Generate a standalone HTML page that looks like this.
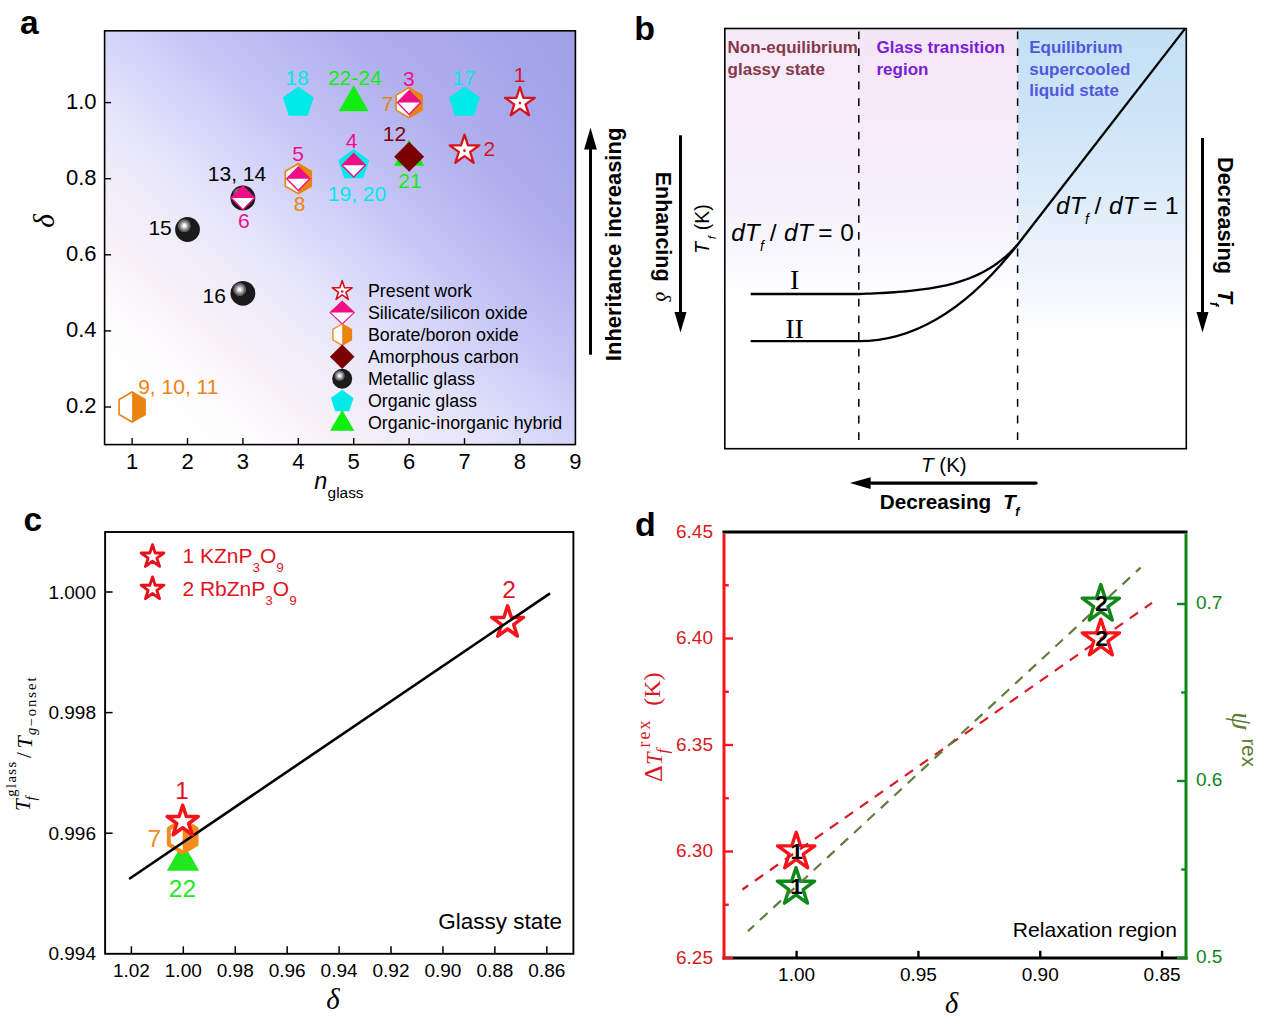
<!DOCTYPE html>
<html lang="en"><head><meta charset="utf-8"><title>Figure</title>
<style>html,body{margin:0;padding:0;background:#fff;overflow:hidden}svg{display:block;font-family:'Liberation Sans', sans-serif}</style></head><body>
<svg width="1269" height="1024" viewBox="0 0 1269 1024">
<defs>
<linearGradient id="bgA" x1="0" y1="1" x2="1" y2="0"><stop offset="0" stop-color="#ffffff"/><stop offset="0.15" stop-color="#fefdfe"/><stop offset="0.25" stop-color="#f8f2f8"/><stop offset="0.33" stop-color="#f0ecf9"/><stop offset="0.42" stop-color="#e3e3fb"/><stop offset="0.5" stop-color="#d4d4fa"/><stop offset="0.6" stop-color="#c3c3f5"/><stop offset="0.75" stop-color="#b0b0ef"/><stop offset="0.9" stop-color="#a5a5ea"/><stop offset="1" stop-color="#a1a1e8"/></linearGradient>
<radialGradient id="bgA2" gradientUnits="userSpaceOnUse" cx="600" cy="190" r="200"><stop offset="0" stop-color="#8083dc" stop-opacity="0.10"/><stop offset="1" stop-color="#8486d4" stop-opacity="0"/></radialGradient>
<linearGradient id="bgB1" x1="0" y1="0" x2="0" y2="1"><stop offset="0" stop-color="#f6eaf8"/><stop offset="0.23" stop-color="#f7eef9"/><stop offset="0.41" stop-color="#f5f1fb"/><stop offset="0.53" stop-color="#f8f7fd"/><stop offset="0.65" stop-color="#ffffff"/><stop offset="1" stop-color="#ffffff"/></linearGradient>
<linearGradient id="bgB2" x1="0" y1="0" x2="0" y2="1"><stop offset="0" stop-color="#f4e5f6"/><stop offset="0.23" stop-color="#f6ebf8"/><stop offset="0.41" stop-color="#f5f0fb"/><stop offset="0.53" stop-color="#f8f7fd"/><stop offset="0.65" stop-color="#ffffff"/><stop offset="1" stop-color="#ffffff"/></linearGradient>
<linearGradient id="bgB3" x1="0" y1="0" x2="0" y2="1"><stop offset="0" stop-color="#c3e0f6"/><stop offset="0.23" stop-color="#cfe5f7"/><stop offset="0.41" stop-color="#deecfa"/><stop offset="0.53" stop-color="#ebf2fc"/><stop offset="0.65" stop-color="#f6f8fe"/><stop offset="0.73" stop-color="#ffffff"/><stop offset="1" stop-color="#ffffff"/></linearGradient>
</defs>
<rect width="1269" height="1024" fill="#fff"/>
<g id="panelA">
<rect x="104.6" y="30.8" width="470.8" height="413.8" fill="url(#bgA)"/>
<rect x="104.6" y="30.8" width="470.8" height="413.8" fill="url(#bgA2)"/>
<polygon points="298.3,86.4 313.71,97.59 307.82,115.71 288.78,115.71 282.89,97.59" fill="#00eaea"/>
<polygon points="353.7,85.3 368.68,111.25 338.72,111.25" fill="#10ee10"/>
<polygon points="464.5,86.4 479.91,97.59 474.02,115.71 454.98,115.71 449.09,97.59" fill="#00eaea"/>
<polygon points="409.1,87.6 422.09,95.1 422.09,110.1 409.1,117.6 396.11,110.1 396.11,95.1" fill="#fff" stroke="#ea8410" stroke-width="1.6"/>
<polygon points="409.1,87.6 422.09,95.1 422.09,110.1 409.1,117.6" fill="#ea8410"/>
<polygon points="409.1,90.8 420.7,102.6 409.1,114.4 397.5,102.6" fill="#fff" stroke="#ee0f86" stroke-width="1.4"/>
<polygon points="409.1,90.8 420.7,102.6 397.5,102.6" fill="#ee0f86"/>
<polygon points="519.9,87 523.4,97.78 534.74,97.78 525.57,104.44 529.07,115.22 519.9,108.56 510.73,115.22 514.23,104.44 505.06,97.78 516.4,97.78" fill="#fff" stroke="#d8121c" stroke-width="2.3" stroke-linejoin="round"/>
<circle cx="519.9" cy="103.1" r="1.3" fill="#d8121c"/>
<polygon points="464.5,134.56 468,145.34 479.34,145.34 470.17,152 473.67,162.78 464.5,156.12 455.33,162.78 458.83,152 449.66,145.34 461,145.34" fill="#fff" stroke="#d8121c" stroke-width="2.3" stroke-linejoin="round"/>
<circle cx="464.5" cy="150.66" r="1.3" fill="#d8121c"/>
<polygon points="409.1,139.71 424.08,165.66 394.12,165.66" fill="#10ee10"/>
<polygon points="409.1,141.8 424.1,156.8 409.1,171.8 394.1,156.8" fill="#7b0000"/>
<polygon points="353.7,149 369.11,160.19 363.22,178.31 344.18,178.31 338.29,160.19" fill="#00eaea"/>
<polygon points="353.7,153.4 365.3,165.2 353.7,177 342.1,165.2" fill="#fff" stroke="#ee0f86" stroke-width="1.4"/>
<polygon points="353.7,153.4 365.3,165.2 342.1,165.2" fill="#ee0f86"/>
<polygon points="298.3,163.7 311.29,171.2 311.29,186.2 298.3,193.7 285.31,186.2 285.31,171.2" fill="#fff" stroke="#ea8410" stroke-width="1.6"/>
<polygon points="298.3,163.7 311.29,171.2 311.29,186.2 298.3,193.7" fill="#ea8410"/>
<polygon points="298.3,166.9 309.9,178.7 298.3,190.5 286.7,178.7" fill="#fff" stroke="#ee0f86" stroke-width="1.4"/>
<polygon points="298.3,166.9 309.9,178.7 286.7,178.7" fill="#ee0f86"/>
<circle cx="242.9" cy="197.9" r="12.4" fill="#1b1b1b"/>
<circle cx="239.7" cy="194.1" r="6.4" fill="#666"/>
<circle cx="239.7" cy="194.1" r="4.5" fill="#989898"/>
<circle cx="239.7" cy="194.1" r="3" fill="#d2d2d2"/>
<circle cx="239.7" cy="194.1" r="1.6" fill="#fff"/>
<polygon points="242.9,186.1 254.5,197.9 242.9,209.7 231.3,197.9" fill="#fff" stroke="#ee0f86" stroke-width="1.4"/>
<polygon points="242.9,186.1 254.5,197.9 231.3,197.9" fill="#ee0f86"/>
<circle cx="187.5" cy="229.5" r="12.4" fill="#1b1b1b"/>
<circle cx="184.3" cy="225.7" r="6.4" fill="#666"/>
<circle cx="184.3" cy="225.7" r="4.5" fill="#989898"/>
<circle cx="184.3" cy="225.7" r="3" fill="#d2d2d2"/>
<circle cx="184.3" cy="225.7" r="1.6" fill="#fff"/>
<circle cx="242.9" cy="293.3" r="12.4" fill="#1b1b1b"/>
<circle cx="239.7" cy="289.5" r="6.4" fill="#666"/>
<circle cx="239.7" cy="289.5" r="4.5" fill="#989898"/>
<circle cx="239.7" cy="289.5" r="3" fill="#d2d2d2"/>
<circle cx="239.7" cy="289.5" r="1.6" fill="#fff"/>
<polygon points="132.1,392 145.09,399.5 145.09,414.5 132.1,422 119.11,414.5 119.11,399.5" fill="#fff" stroke="#ea8410" stroke-width="1.6"/>
<polygon points="132.1,392 145.09,399.5 145.09,414.5 132.1,422" fill="#ea8410"/>
<text x="297" y="84.5" font-size="21" fill="#00eaea" text-anchor="middle">18</text>
<text x="354.8" y="84.5" font-size="21" fill="#10ee10" text-anchor="middle">22-24</text>
<text x="408.8" y="85.7" font-size="21" fill="#ee0f86" text-anchor="middle">3</text>
<text x="387.6" y="111" font-size="21" fill="#ea8410" text-anchor="middle">7</text>
<text x="463.7" y="84.5" font-size="21" fill="#00eaea" text-anchor="middle">17</text>
<text x="519.7" y="82" font-size="21" fill="#d8121c" text-anchor="middle">1</text>
<text x="489.4" y="155.8" font-size="21" fill="#d8121c" text-anchor="middle">2</text>
<text x="394.4" y="140.7" font-size="21" fill="#7b0000" text-anchor="middle">12</text>
<text x="351.5" y="147.5" font-size="21" fill="#ee0f86" text-anchor="middle">4</text>
<text x="410" y="187.9" font-size="21" fill="#10ee10" text-anchor="middle">21</text>
<text x="357" y="200.5" font-size="21" fill="#00eaea" text-anchor="middle">19, 20</text>
<text x="298" y="160.6" font-size="21" fill="#ee0f86" text-anchor="middle">5</text>
<text x="299.5" y="211.3" font-size="21" fill="#ea8410" text-anchor="middle">8</text>
<text x="237" y="181" font-size="21" fill="#000" text-anchor="middle">13, 14</text>
<text x="243.8" y="228.2" font-size="21" fill="#ee0f86" text-anchor="middle">6</text>
<text x="160.1" y="235" font-size="21" fill="#000" text-anchor="middle">15</text>
<text x="214.3" y="302.6" font-size="21" fill="#000" text-anchor="middle">16</text>
<text x="138.2" y="393.9" font-size="21" fill="#ea8410">9, 10, 11</text>
<polygon points="342.2,280.6 344.54,287.79 352.09,287.79 345.98,292.23 348.31,299.41 342.2,294.97 336.09,299.41 338.42,292.23 332.31,287.79 339.86,287.79" fill="#fff" stroke="#d8121c" stroke-width="1.6" stroke-linejoin="round"/>
<circle cx="342.2" cy="291.5" r="1.3" fill="#d8121c"/>
<polygon points="342.2,301.27 354.2,312.57 342.2,323.87 330.2,312.57" fill="#fff" stroke="#ee0f86" stroke-width="1.2"/>
<polygon points="342.2,301.27 354.2,312.57 330.2,312.57" fill="#ee0f86"/>
<polygon points="342.2,323.94 351.47,329.29 351.47,339.99 342.2,345.34 332.93,339.99 332.93,329.29" fill="#fff" stroke="#ea8410" stroke-width="1.3"/>
<polygon points="342.2,323.94 351.47,329.29 351.47,339.99 342.2,345.34" fill="#ea8410"/>
<polygon points="342.2,344.41 354.5,356.71 342.2,369.01 329.9,356.71" fill="#7b0000"/>
<circle cx="342.2" cy="378.78" r="10" fill="#1b1b1b"/>
<circle cx="339.62" cy="375.72" r="5.16" fill="#666"/>
<circle cx="339.62" cy="375.72" r="3.63" fill="#989898"/>
<circle cx="339.62" cy="375.72" r="2.42" fill="#d2d2d2"/>
<circle cx="339.62" cy="375.72" r="1.29" fill="#fff"/>
<polygon points="342.2,389.75 353.52,397.97 349.19,411.28 335.21,411.28 330.88,397.97" fill="#00eaea"/>
<polygon points="342.2,409.72 354.32,430.72 330.08,430.72" fill="#10ee10"/>
<text x="367.9" y="296.5" font-size="17.85" fill="#000">Present work</text>
<text x="367.9" y="318.57" font-size="17.85" fill="#000">Silicate/silicon oxide</text>
<text x="367.9" y="340.64" font-size="17.85" fill="#000">Borate/boron oxide</text>
<text x="367.9" y="362.71" font-size="17.85" fill="#000">Amorphous carbon</text>
<text x="367.9" y="384.78" font-size="17.85" fill="#000">Metallic glass</text>
<text x="367.9" y="406.85" font-size="17.85" fill="#000">Organic glass</text>
<text x="367.9" y="428.92" font-size="17.85" fill="#000">Organic-inorganic hybrid</text>
<rect x="104.6" y="30.8" width="470.8" height="413.8" fill="none" stroke="#000" stroke-width="1.6"/>
<line x1="132.1" y1="444.6" x2="132.1" y2="438.1" stroke="#000" stroke-width="1.4"/>
<line x1="187.5" y1="444.6" x2="187.5" y2="438.1" stroke="#000" stroke-width="1.4"/>
<line x1="242.9" y1="444.6" x2="242.9" y2="438.1" stroke="#000" stroke-width="1.4"/>
<line x1="298.3" y1="444.6" x2="298.3" y2="438.1" stroke="#000" stroke-width="1.4"/>
<line x1="353.7" y1="444.6" x2="353.7" y2="438.1" stroke="#000" stroke-width="1.4"/>
<line x1="409.1" y1="444.6" x2="409.1" y2="438.1" stroke="#000" stroke-width="1.4"/>
<line x1="464.5" y1="444.6" x2="464.5" y2="438.1" stroke="#000" stroke-width="1.4"/>
<line x1="519.9" y1="444.6" x2="519.9" y2="438.1" stroke="#000" stroke-width="1.4"/>
<text x="132.1" y="469" font-size="22" fill="#000" text-anchor="middle">1</text>
<text x="187.5" y="469" font-size="22" fill="#000" text-anchor="middle">2</text>
<text x="242.9" y="469" font-size="22" fill="#000" text-anchor="middle">3</text>
<text x="298.3" y="469" font-size="22" fill="#000" text-anchor="middle">4</text>
<text x="353.7" y="469" font-size="22" fill="#000" text-anchor="middle">5</text>
<text x="409.1" y="469" font-size="22" fill="#000" text-anchor="middle">6</text>
<text x="464.5" y="469" font-size="22" fill="#000" text-anchor="middle">7</text>
<text x="519.9" y="469" font-size="22" fill="#000" text-anchor="middle">8</text>
<text x="575.3" y="469" font-size="22" fill="#000" text-anchor="middle">9</text>
<line x1="104.6" y1="407" x2="111.1" y2="407" stroke="#000" stroke-width="1.4"/>
<text x="96.5" y="413.4" font-size="22" fill="#000" text-anchor="end">0.2</text>
<line x1="104.6" y1="330.9" x2="111.1" y2="330.9" stroke="#000" stroke-width="1.4"/>
<text x="96.5" y="337.3" font-size="22" fill="#000" text-anchor="end">0.4</text>
<line x1="104.6" y1="254.8" x2="111.1" y2="254.8" stroke="#000" stroke-width="1.4"/>
<text x="96.5" y="261.2" font-size="22" fill="#000" text-anchor="end">0.6</text>
<line x1="104.6" y1="178.7" x2="111.1" y2="178.7" stroke="#000" stroke-width="1.4"/>
<text x="96.5" y="185.1" font-size="22" fill="#000" text-anchor="end">0.8</text>
<line x1="104.6" y1="102.6" x2="111.1" y2="102.6" stroke="#000" stroke-width="1.4"/>
<text x="96.5" y="109" font-size="22" fill="#000" text-anchor="end">1.0</text>
<text transform="translate(53.5,221) rotate(-90)" font-size="29.5" font-style="italic" font-family="'Liberation Serif', serif" text-anchor="middle">δ</text>
<text font-size="23.5" font-style="italic"><tspan x="314.3" y="488.7">n</tspan><tspan x="327.6" y="497.7" font-size="15.4" font-style="normal">glass</tspan></text>
<line x1="590.5" y1="354.7" x2="590.5" y2="147" stroke="#000" stroke-width="3"/>
<polygon points="590.5,127.8 596.9,149.6 584.1,149.6" fill="#000"/>
<text transform="translate(620.6,244.4) rotate(-90)" font-size="22" font-weight="bold" text-anchor="middle">Inheritance increasing</text>
<text x="20" y="34" font-size="33.5" fill="#000" font-weight="bold">a</text>
</g>
<g id="panelB">
<rect x="724.8" y="28.5" width="134" height="420.2" fill="url(#bgB1)"/>
<rect x="858.8" y="28.5" width="158.8" height="420.2" fill="url(#bgB2)"/>
<rect x="1017.6" y="28.5" width="168.7" height="420.2" fill="url(#bgB3)"/>
<rect x="724.8" y="28.5" width="461.5" height="420.2" fill="none" stroke="#000" stroke-width="1.6"/>
<line x1="858.8" y1="28.5" x2="858.8" y2="442.5" stroke="#000" stroke-width="1.5" stroke-dasharray="7.8,8.9" stroke-dashoffset="-3"/>
<line x1="1017.6" y1="28.5" x2="1017.6" y2="442.5" stroke="#000" stroke-width="1.5" stroke-dasharray="7.8,8.9" stroke-dashoffset="-3"/>
<path d="M750.7,294 L858.8,294 L862.77,293.87 L866.73,293.72 L870.7,293.56 L874.67,293.39 L878.64,293.2 L882.61,292.99 L886.57,292.76 L890.54,292.51 L894.51,292.24 L898.47,291.94 L902.44,291.62 L906.41,291.26 L910.38,290.87 L914.35,290.45 L918.31,289.98 L922.28,289.47 L926.25,288.92 L930.21,288.31 L934.18,287.65 L938.15,286.92 L942.12,286.12 L946.09,285.26 L950.05,284.31 L954.02,283.27 L957.99,282.13 L961.95,280.89 L965.92,279.53 L969.89,278.05 L973.86,276.43 L977.83,274.65 L981.79,272.71 L985.76,270.59 L989.73,268.27 L993.69,265.74 L997.66,262.96 L1001.63,259.93 L1005.6,256.62 L1009.57,252.99 L1013.53,249.03 L1017.5,244.7 L1184.9,28.9" fill="none" stroke="#000" stroke-width="2.3" stroke-linejoin="round"/>
<path d="M750.7,341.2 L858.8,341.2 Q942.15,341.2 1017.5,244.7" fill="none" stroke="#000" stroke-width="2.3"/>
<text x="794.6" y="288.8" font-size="28" fill="#000" text-anchor="middle" font-family="'Liberation Serif', serif">I</text>
<text x="794.6" y="338" font-size="28" fill="#000" text-anchor="middle" font-family="'Liberation Serif', serif">II</text>
<text x="727.6" y="52.9" font-size="17" fill="#87384a" font-weight="bold">Non-equilibrium</text>
<text x="727.6" y="74.6" font-size="17" fill="#87384a" font-weight="bold">glassy state</text>
<text x="876.5" y="52.9" font-size="17" fill="#7a1ed6" font-weight="bold">Glass transition</text>
<text x="876.5" y="74.6" font-size="17" fill="#7a1ed6" font-weight="bold">region</text>
<text x="1029.2" y="52.9" font-size="17" fill="#5257dc" font-weight="bold">Equilibrium</text>
<text x="1029.2" y="74.6" font-size="17" fill="#5257dc" font-weight="bold">supercooled</text>
<text x="1029.2" y="96.2" font-size="17" fill="#5257dc" font-weight="bold">liquid state</text>
<text y="241.3" font-size="24.5" font-style="italic"><tspan x="731.2">dT</tspan><tspan x="760" dy="9.7" font-size="14">f</tspan><tspan x="769.7" dy="-9.7" font-style="normal">/</tspan><tspan x="784.1">dT</tspan><tspan x="818.2" font-style="normal">=</tspan><tspan x="840.3" font-style="normal">0</tspan></text>
<text y="214.3" font-size="24.5" font-style="italic"><tspan x="1056.1">dT</tspan><tspan x="1084.9" dy="9.7" font-size="14">f</tspan><tspan x="1094.6" dy="-9.7" font-style="normal">/</tspan><tspan x="1109">dT</tspan><tspan x="1143.1" font-style="normal">=</tspan><tspan x="1165" font-style="normal">1</tspan></text>
<line x1="680.5" y1="135.3" x2="680.5" y2="314" stroke="#000" stroke-width="3"/>
<polygon points="680.5,332.6 686.5,312 674.5,312" fill="#000"/>
<text transform="translate(655.6,171.7) rotate(90)" font-size="21.5" font-weight="bold">Enhancing<tspan x="120" font-size="21" font-style="italic" font-weight="normal" font-family="'Liberation Serif', serif">δ</tspan></text>
<text transform="translate(709,253.7) rotate(-90)" font-size="19.5" font-style="italic">T<tspan font-size="11.5" dy="7" dx="2.5">f</tspan><tspan dy="-7" font-style="normal" x="23.5">(K)</tspan></text>
<line x1="1202.5" y1="138" x2="1202.5" y2="314" stroke="#000" stroke-width="3"/>
<polygon points="1202.5,332.4 1208.5,312 1196.5,312" fill="#000"/>
<text transform="translate(1218.4,157.1) rotate(90)" font-size="21.7" font-weight="bold">Decreasing<tspan x="132.6" font-style="italic">T</tspan><tspan font-style="italic" font-size="12.5" dy="8" dx="-1">f</tspan></text>
<text x="921.1" y="471.8" font-size="20.5"><tspan font-style="italic">T</tspan> (K)</text>
<line x1="1036.1" y1="483.1" x2="868" y2="483.1" stroke="#000" stroke-width="3.2" stroke-linecap="round"/>
<polygon points="849.9,483.1 870.6,477.3 870.6,488.9" fill="#000"/>
<text x="879.7" y="508.7" font-size="20.7" font-weight="bold">Decreasing<tspan x="1003" font-style="italic">T</tspan><tspan font-style="italic" font-size="12.5" dy="7" dx="-0.5">f</tspan></text>
<text x="634.3" y="39.6" font-size="34" fill="#000" font-weight="bold">b</text>
</g>
<g id="panelC">
<rect x="105.1" y="532" width="468.3" height="421.8" fill="none" stroke="#000" stroke-width="1.9"/>
<line x1="131.37" y1="953.8" x2="131.37" y2="946.3" stroke="#000" stroke-width="1.5"/>
<text x="131.37" y="976.6" font-size="19" fill="#000" text-anchor="middle">1.02</text>
<line x1="183.3" y1="953.8" x2="183.3" y2="946.3" stroke="#000" stroke-width="1.5"/>
<text x="183.3" y="976.6" font-size="19" fill="#000" text-anchor="middle">1.00</text>
<line x1="235.23" y1="953.8" x2="235.23" y2="946.3" stroke="#000" stroke-width="1.5"/>
<text x="235.23" y="976.6" font-size="19" fill="#000" text-anchor="middle">0.98</text>
<line x1="287.16" y1="953.8" x2="287.16" y2="946.3" stroke="#000" stroke-width="1.5"/>
<text x="287.16" y="976.6" font-size="19" fill="#000" text-anchor="middle">0.96</text>
<line x1="339.09" y1="953.8" x2="339.09" y2="946.3" stroke="#000" stroke-width="1.5"/>
<text x="339.09" y="976.6" font-size="19" fill="#000" text-anchor="middle">0.94</text>
<line x1="391.02" y1="953.8" x2="391.02" y2="946.3" stroke="#000" stroke-width="1.5"/>
<text x="391.02" y="976.6" font-size="19" fill="#000" text-anchor="middle">0.92</text>
<line x1="442.95" y1="953.8" x2="442.95" y2="946.3" stroke="#000" stroke-width="1.5"/>
<text x="442.95" y="976.6" font-size="19" fill="#000" text-anchor="middle">0.90</text>
<line x1="494.88" y1="953.8" x2="494.88" y2="946.3" stroke="#000" stroke-width="1.5"/>
<text x="494.88" y="976.6" font-size="19" fill="#000" text-anchor="middle">0.88</text>
<line x1="546.81" y1="953.8" x2="546.81" y2="946.3" stroke="#000" stroke-width="1.5"/>
<text x="546.81" y="976.6" font-size="19" fill="#000" text-anchor="middle">0.86</text>
<text x="96" y="960.4" font-size="19" fill="#000" text-anchor="end">0.994</text>
<line x1="105.1" y1="833.2" x2="112.6" y2="833.2" stroke="#000" stroke-width="1.5"/>
<text x="96" y="839.8" font-size="19" fill="#000" text-anchor="end">0.996</text>
<line x1="105.1" y1="712.6" x2="112.6" y2="712.6" stroke="#000" stroke-width="1.5"/>
<text x="96" y="719.2" font-size="19" fill="#000" text-anchor="end">0.998</text>
<line x1="105.1" y1="592" x2="112.6" y2="592" stroke="#000" stroke-width="1.5"/>
<text x="96" y="598.6" font-size="19" fill="#000" text-anchor="end">1.000</text>
<polygon points="183,842.8 199.19,870.85 166.81,870.85" fill="#1fe81f"/>
<polygon points="182.7,820.5 196.56,828.5 196.56,844.5 182.7,852.5 168.84,844.5 168.84,828.5" fill="#fff" stroke="#f28c1e" stroke-width="4" stroke-linejoin="round"/>
<polygon points="182.7,820.5 196.56,828.5 196.56,844.5 182.7,852.5" fill="#f28c1e"/>
<polygon points="507.6,605.9 511.35,617.44 523.48,617.44 513.67,624.57 517.42,636.11 507.6,628.98 497.78,636.11 501.53,624.57 491.72,617.44 503.85,617.44" fill="none" stroke="#f4141c" stroke-width="3.5" stroke-linejoin="round"/>
<line x1="129.1" y1="879" x2="550" y2="593.3" stroke="#000" stroke-width="2.6"/>
<polygon points="182.7,805.2 186.36,816.46 198.2,816.46 188.62,823.42 192.28,834.69 182.7,827.73 173.12,834.69 176.78,823.42 167.2,816.46 179.04,816.46" fill="#fff" stroke="#f4141c" stroke-width="3.6" stroke-linejoin="round"/>
<text x="182.1" y="799.1" font-size="24.5" fill="#e1141e" text-anchor="middle">1</text>
<text x="509" y="598" font-size="24.5" fill="#e1141e" text-anchor="middle">2</text>
<text x="154.2" y="847.3" font-size="24.5" fill="#f28c1e" text-anchor="middle">7</text>
<text x="182.4" y="896.6" font-size="24.5" fill="#1fe81f" text-anchor="middle">22</text>
<text x="562" y="928.6" font-size="22.5" fill="#000" text-anchor="end">Glassy state</text>
<polygon points="152.5,544.7 155.19,552.99 163.91,552.99 156.86,558.12 159.55,566.41 152.5,561.28 145.45,566.41 148.14,558.12 141.09,552.99 149.81,552.99" fill="#fff" stroke="#e6121b" stroke-width="2.9" stroke-linejoin="round"/>
<polygon points="152.5,576.9 155.19,585.19 163.91,585.19 156.86,590.32 159.55,598.61 152.5,593.48 145.45,598.61 148.14,590.32 141.09,585.19 149.81,585.19" fill="#fff" stroke="#e6121b" stroke-width="2.9" stroke-linejoin="round"/>
<text x="182.4" y="562.7" font-size="21" fill="#e1141e">1 KZnP<tspan font-size="13.5" dy="9">3</tspan><tspan dy="-9">O</tspan><tspan font-size="13.5" dy="9">9</tspan></text>
<text x="182.4" y="595.6" font-size="21" fill="#e1141e">2 RbZnP<tspan font-size="13.5" dy="9">3</tspan><tspan dy="-9">O</tspan><tspan font-size="13.5" dy="9">9</tspan></text>
<text x="333" y="1009" font-size="28.8" font-style="italic" font-family="'Liberation Serif', serif" text-anchor="middle">δ</text>
<text transform="translate(30,809.5) rotate(-90)" font-size="21" font-family="'Liberation Serif', serif"><tspan x="-1.5" y="0" font-style="italic">T</tspan><tspan x="9" y="6.4" font-style="italic" font-size="14.7">f</tspan><tspan x="12.8" y="-13.8" font-size="14.6" letter-spacing="1.4">glass</tspan><tspan x="51.5" y="1">/</tspan><tspan x="61" y="1.5" font-style="italic" font-size="22">T</tspan><tspan x="74.5" y="6.2" font-size="14.6" font-style="italic">g</tspan><tspan x="83" y="6.4" font-size="14.6" letter-spacing="2">−onset</tspan></text>
<text x="23.6" y="530.6" font-size="33.5" fill="#000" font-weight="bold">c</text>
</g>
<g id="panelD">
<polygon points="796,867.7 800.4,881.24 814.64,881.24 803.12,889.61 807.52,903.16 796,894.79 784.48,903.16 788.88,889.61 777.36,881.24 791.6,881.24" fill="none" stroke="#0f8719" stroke-width="3.4" stroke-linejoin="round"/>
<polygon points="796.2,832.3 800.6,845.84 814.84,845.84 803.32,854.21 807.72,867.76 796.2,859.39 784.68,867.76 789.08,854.21 777.56,845.84 791.8,845.84" fill="none" stroke="#fa1419" stroke-width="3.4" stroke-linejoin="round"/>
<polygon points="1100.9,619.3 1105.3,632.84 1119.54,632.84 1108.02,641.21 1112.42,654.76 1100.9,646.39 1089.38,654.76 1093.78,641.21 1082.26,632.84 1096.5,632.84" fill="none" stroke="#fa1419" stroke-width="3.4" stroke-linejoin="round"/>
<polygon points="1100.8,584.6 1105.2,598.14 1119.44,598.14 1107.92,606.51 1112.32,620.06 1100.8,611.69 1089.28,620.06 1093.68,606.51 1082.16,598.14 1096.4,598.14" fill="none" stroke="#0f8719" stroke-width="3.4" stroke-linejoin="round"/>
<line x1="742.4" y1="889.5" x2="1152" y2="602.9" stroke="#d71923" stroke-width="2.2" stroke-dasharray="10,8.3" stroke-dashoffset="3"/>
<line x1="748" y1="931.1" x2="1140.6" y2="567.6" stroke="#5f7d3c" stroke-width="2.2" stroke-dasharray="10.3,8" stroke-dashoffset="2"/>
<text x="796.6" y="893.9" font-size="22.5" font-weight="bold" text-anchor="middle" fill="#000">1</text>
<text x="796.8" y="858.5" font-size="22.5" font-weight="bold" text-anchor="middle" fill="#000">1</text>
<text x="1101.5" y="645.5" font-size="22.5" font-weight="bold" text-anchor="middle" fill="#000">2</text>
<text x="1101.4" y="610.8" font-size="22.5" font-weight="bold" text-anchor="middle" fill="#000">2</text>
<line x1="722.5" y1="532" x2="1187.5" y2="532" stroke="#000" stroke-width="3"/>
<line x1="722.5" y1="958" x2="1187.5" y2="958" stroke="#000" stroke-width="3"/>
<line x1="724" y1="533.5" x2="724" y2="959.5" stroke="#fa1419" stroke-width="3"/>
<line x1="1186" y1="533.5" x2="1186" y2="959.5" stroke="#0f8719" stroke-width="3"/>
<line x1="724" y1="585.25" x2="728.8" y2="585.25" stroke="#fa1419" stroke-width="2.4"/>
<line x1="724" y1="638.5" x2="733" y2="638.5" stroke="#fa1419" stroke-width="2.4"/>
<line x1="724" y1="691.75" x2="728.8" y2="691.75" stroke="#fa1419" stroke-width="2.4"/>
<line x1="724" y1="745" x2="733" y2="745" stroke="#fa1419" stroke-width="2.4"/>
<line x1="724" y1="798.25" x2="728.8" y2="798.25" stroke="#fa1419" stroke-width="2.4"/>
<line x1="724" y1="851.5" x2="733" y2="851.5" stroke="#fa1419" stroke-width="2.4"/>
<line x1="724" y1="904.75" x2="728.8" y2="904.75" stroke="#fa1419" stroke-width="2.4"/>
<line x1="724" y1="958" x2="733" y2="958" stroke="#fa1419" stroke-width="2.4"/>
<text x="713" y="537.8" font-size="19" fill="#d71923" text-anchor="end">6.45</text>
<text x="713" y="644.3" font-size="19" fill="#d71923" text-anchor="end">6.40</text>
<text x="713" y="750.8" font-size="19" fill="#d71923" text-anchor="end">6.35</text>
<text x="713" y="857.3" font-size="19" fill="#d71923" text-anchor="end">6.30</text>
<text x="713" y="963.8" font-size="19" fill="#d71923" text-anchor="end">6.25</text>
<line x1="1186" y1="958" x2="1177" y2="958" stroke="#0f8719" stroke-width="2.4"/>
<line x1="1186" y1="869.5" x2="1181.2" y2="869.5" stroke="#0f8719" stroke-width="2.4"/>
<line x1="1186" y1="781" x2="1177" y2="781" stroke="#0f8719" stroke-width="2.4"/>
<line x1="1186" y1="692.5" x2="1181.2" y2="692.5" stroke="#0f8719" stroke-width="2.4"/>
<line x1="1186" y1="604" x2="1177" y2="604" stroke="#0f8719" stroke-width="2.4"/>
<text x="1196" y="963.4" font-size="19" fill="#0f8719">0.5</text>
<text x="1196" y="786.4" font-size="19" fill="#0f8719">0.6</text>
<text x="1196" y="609.4" font-size="19" fill="#0f8719">0.7</text>
<line x1="796.6" y1="958" x2="796.6" y2="950.8" stroke="#000" stroke-width="2.4"/>
<text x="796.6" y="980.8" font-size="19" fill="#000" text-anchor="middle">1.00</text>
<line x1="918.43" y1="958" x2="918.43" y2="950.8" stroke="#000" stroke-width="2.4"/>
<text x="918.43" y="980.8" font-size="19" fill="#000" text-anchor="middle">0.95</text>
<line x1="1040.26" y1="958" x2="1040.26" y2="950.8" stroke="#000" stroke-width="2.4"/>
<text x="1040.26" y="980.8" font-size="19" fill="#000" text-anchor="middle">0.90</text>
<line x1="1162.09" y1="958" x2="1162.09" y2="950.8" stroke="#000" stroke-width="2.4"/>
<text x="1162.09" y="980.8" font-size="19" fill="#000" text-anchor="middle">0.85</text>
<text x="1177" y="937.4" font-size="21.1" fill="#000" text-anchor="end">Relaxation region</text>
<text x="951.5" y="1013.3" font-size="28.5" font-style="italic" font-family="'Liberation Serif', serif" text-anchor="middle">δ</text>
<text transform="translate(661.5,782) rotate(-90)" font-size="24" fill="#d71923" font-family="'Liberation Serif', serif"><tspan x="0" y="0" font-size="26">Δ</tspan><tspan x="17" y="0" font-style="italic" font-size="22.5">T</tspan><tspan x="28.5" y="6" font-style="italic" font-size="17">f</tspan><tspan x="34.6" y="-11.2" font-size="18" letter-spacing="2">rex</tspan><tspan x="76.2" y="-2">(K)</tspan></text>
<text transform="translate(1232,712) rotate(90)" font-size="29" fill="#5b7d35" font-family="'Liberation Serif', serif" font-style="italic"><tspan x="0" y="0">ψ</tspan><tspan x="26.6" y="-10" font-size="20.3" font-style="normal" font-family="'Liberation Sans', sans-serif">rex</tspan></text>
<text x="635" y="535.6" font-size="34" fill="#000" font-weight="bold">d</text>
</g>
</svg></body></html>
